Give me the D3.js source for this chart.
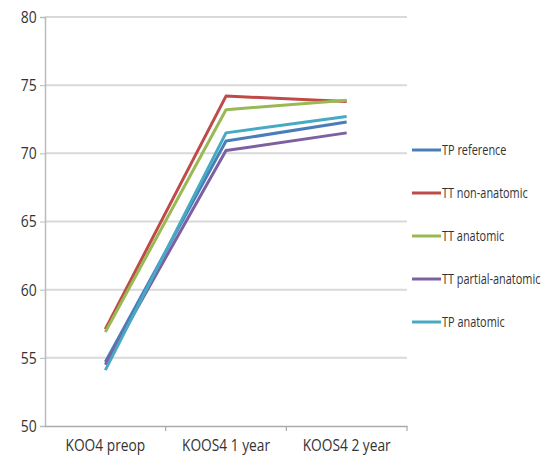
<!DOCTYPE html>
<html>
<head>
<meta charset="utf-8">
<script src="https://cdn.jsdelivr.net/npm/d3@7"></script>
<style>
  body { margin: 0; background: #fff; }
  text { font-family: "Open Sans", "DejaVu Sans", sans-serif; fill: #333; }
</style>
</head>
<body>
<svg width="557" height="468"></svg>
<script>
const categories = ["KOO4 preop", "KOOS4 1 year", "KOOS4 2 year"];
const seriesNames = ["TP reference", "TT non-anatomic", "TT anatomic", "TT partial-anatomic", "TP anatomic"];
const colors = ["#4a7ebb", "#be4b48", "#98b954", "#7d60a0", "#46aac5"];
const tpReference = [54.7, 70.9, 72.3];
const ttNonAnatomic = [57.1, 74.2, 73.8];
const ttAnatomic = [56.9, 73.2, 73.9];
const ttPartialAnatomic = [54.5, 70.2, 71.5];
const tpAnatomic = [54.1, 71.5, 72.7];
const yTicks = [50, 55, 60, 65, 70, 75, 80];

const allSeries = [tpReference, ttNonAnatomic, ttAnatomic, ttPartialAnatomic, tpAnatomic];

var svg = d3.select("svg");
var mLeft = 45, mRight = 407, mTop = 17, mBottom = 426;

var x = d3.scaleBand().domain(categories).range([mLeft, mRight]);
var y = d3.scaleLinear().domain([50, 80]).range([mBottom, mTop]);

// gridlines
svg.append("g")
    .selectAll("line")
    .data(yTicks.slice(1))
    .join("line")
    .attr("x1", mLeft).attr("x2", mRight)
    .attr("y1", d => y(d)).attr("y2", d => y(d))
    .attr("stroke", "#d9d9d9")
    .attr("stroke-width", 2);

// y axis
var yAxis = svg.append("g")
    .attr("transform", "translate(" + mLeft + ",0)")
    .call(d3.axisLeft(y).tickValues(yTicks).tickSize(5).tickPadding(5));
yAxis.select(".domain").attr("stroke", "#bbb").attr("stroke-width", 1.5);
yAxis.selectAll(".tick line").attr("stroke", "#bbb");
yAxis.selectAll("text")
    .attr("font-size", 17)
    .attr("transform", "scale(0.82,1)")
    .style("fill", "#333");

// x axis
var xAxis = svg.append("g")
    .attr("transform", "translate(0," + mBottom + ")")
    .call(d3.axisBottom(x).tickSize(0).tickPadding(14));
xAxis.select(".domain").attr("stroke", "#aaa").attr("stroke-width", 1.5);
xAxis.selectAll("text")
    .attr("font-size", 16)
    .attr("transform", "scale(0.86,1)")
    .style("fill", "#333");
// tick marks between categories
svg.append("g")
    .selectAll("line")
    .data(categories)
    .join("line")
    .attr("x1", d => x(d) + x.bandwidth()).attr("x2", d => x(d) + x.bandwidth())
    .attr("y1", mBottom).attr("y2", mBottom + 5)
    .attr("stroke", "#aaa").attr("stroke-width", 1.2);

// lines
var line = d3.line()
    .x((d, i) => x(categories[i]) + x.bandwidth() / 2)
    .y(d => y(d));

svg.append("g")
    .selectAll("path")
    .data(allSeries)
    .join("path")
    .attr("d", line)
    .attr("fill", "none")
    .attr("stroke", (d, i) => colors[i])
    .attr("stroke-width", 3)
    .attr("stroke-linejoin", "round");

// legend
var legend = svg.append("g")
    .selectAll("g")
    .data(seriesNames)
    .join("g")
    .attr("transform", (d, i) => "translate(412," + (150 + i * 43) + ")");
legend.append("line")
    .attr("x1", 0).attr("x2", 29)
    .attr("stroke", (d, i) => colors[i])
    .attr("stroke-width", 3);
legend.append("text")
    .attr("dy", "0.35em")
    .attr("font-size", 14)
    .attr("transform", "translate(30,0) scale(0.78,1)")
    .text(d => d);
</script>
</body>
</html>
